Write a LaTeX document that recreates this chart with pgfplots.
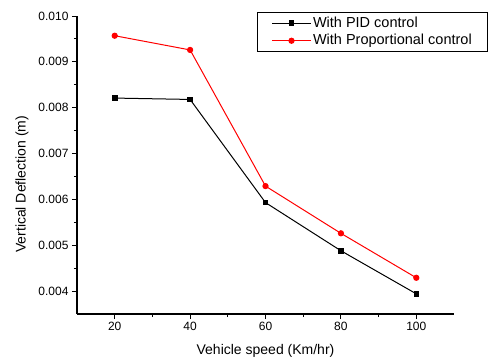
\documentclass[border=0pt]{standalone}
\usepackage{fontspec}
\setmainfont{Liberation Sans}
\usepackage{pgfplots}
\pgfplotsset{compat=1.18}
\begin{document}
\begin{tikzpicture}
\begin{axis}[
  name=a,
  scale only axis,
  width=377pt, height=298pt,
  xmin=10, xmax=110, ymin=0.0035, ymax=0.010,
  axis x line*=bottom, axis y line*=left,
  axis line style={line width=1.4pt, -},
  xtick={20,40,60,80,100},
  ytick={0.004,0.005,0.006,0.007,0.008,0.009,0.010},
  minor x tick num=1, minor y tick num=1,
  tick align=outside,
  major tick length=5pt, minor tick length=3pt,
  tick style={line width=1pt, black},
  scaled y ticks=false,
  yticklabel style={/pgf/number format/.cd, fixed, fixed zerofill, precision=3, assume math mode=true},
  xticklabel style={/pgf/number format/assume math mode=true},
  tick label style={font=\fontsize{12}{14}\selectfont},
  label style={font=\fontsize{14}{16}\selectfont},
  xlabel={Vehicle speed (Km/hr)},
  ylabel={Vertical Deflection (m)},
  xlabel style={at={(axis description cs:0.5,-0.124)}, anchor=center},
  ylabel style={at={(axis description cs:-0.146,0.435)}, anchor=center},
  legend style={at={(axis description cs:0.4775,1.0134)}, anchor=north west,
    draw=black, line width=1pt, font=\fontsize{14.5}{18}\selectfont,
    inner xsep=14pt, inner ysep=2pt, row sep=0pt,
    nodes={inner sep=1.5pt, text height=11pt, text depth=3.5pt}},
  legend cell align=left,
  legend image code/.code={\draw[mark repeat=2,mark phase=2] plot coordinates {(0pt,0pt) (19.5pt,0pt) (39pt,0pt)};},
]
\addplot[black, line width=1pt, mark=square*, mark size=2.3pt, mark options={solid}]
coordinates {(20,0.00821) (40,0.00818) (60,0.00593) (80,0.00488) (100,0.00394)};
\addlegendentry{With PID control}
\addplot[red, line width=1pt, mark=*, mark size=2.6pt, mark options={solid}]
coordinates {(20,0.00957) (40,0.00926) (60,0.00629) (80,0.00526) (100,0.00429)};
\addlegendentry{With Proportional control}
\end{axis}
\pgfresetboundingbox
\path ([shift={(-77pt,-47pt)}]a.south west) rectangle ([shift={(415pt,314pt)}]a.south west);
\end{tikzpicture}
\end{document}
